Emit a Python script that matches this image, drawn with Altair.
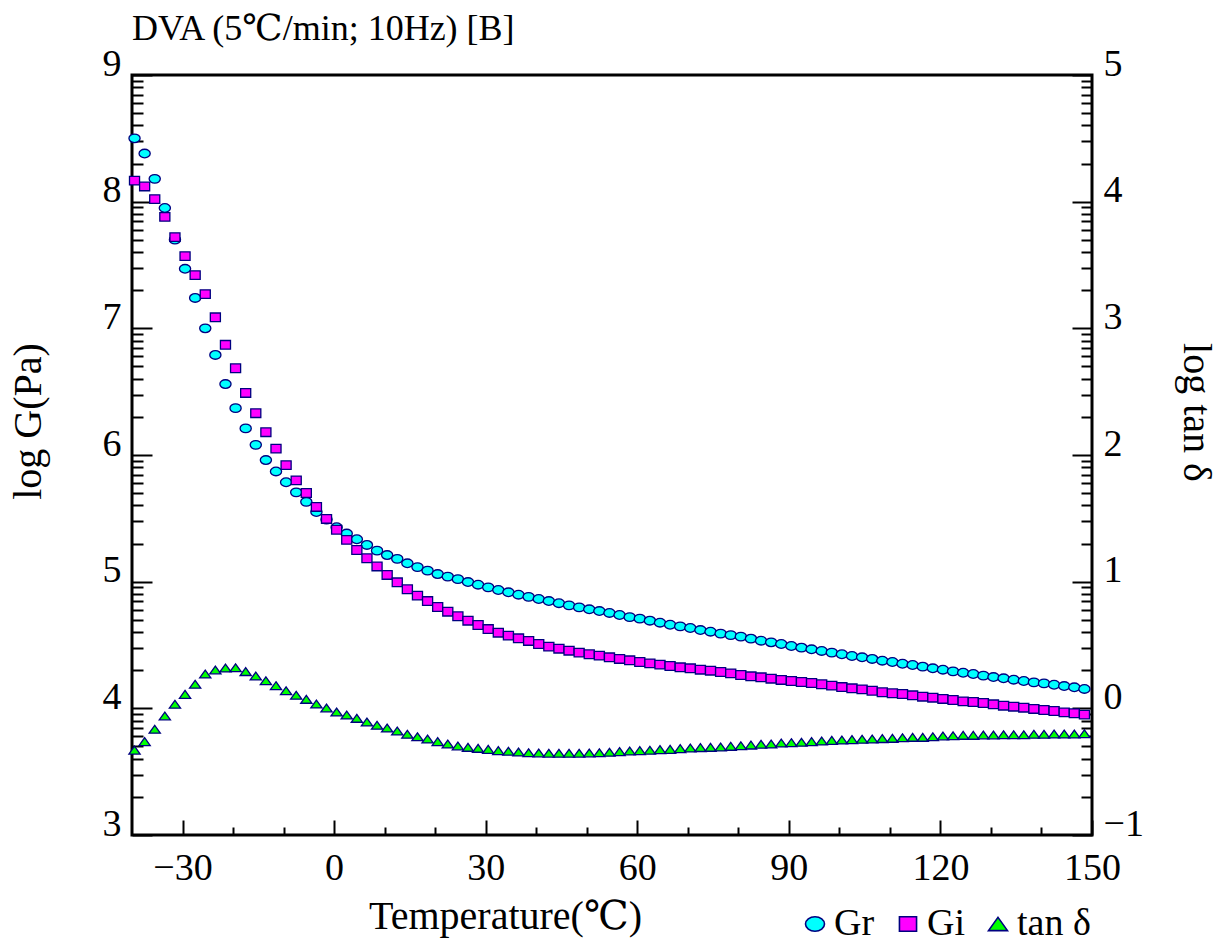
import math
import altair as alt
import pandas as pd

# ---------------- data ----------------
temps = [-39.5, -37.5, -35.5, -33.5, -31.5, -29.5, -27.5, -25.5, -23.5, -21.5,
         -19.5, -17.5, -15.5, -13.5, -11.5, -9.5, -7.5, -5.5, -3.5, -1.5,
         0.5, 2.5, 4.5, 6.5, 8.5, 10.5, 12.5, 14.5, 16.5, 18.5,
         20.5, 22.5, 24.5, 26.5, 28.5, 30.5, 32.5, 34.5, 36.5, 38.5,
         40.5, 42.5, 44.5, 46.5, 48.5, 50.5, 52.5, 54.5, 56.5, 58.5,
         60.5, 62.5, 64.5, 66.5, 68.5, 70.5, 72.5, 74.5, 76.5, 78.5,
         80.5, 82.5, 84.5, 86.5, 88.5, 90.5, 92.5, 94.5, 96.5, 98.5,
         100.5, 102.5, 104.5, 106.5, 108.5, 110.5, 112.5, 114.5, 116.5, 118.5,
         120.5, 122.5, 124.5, 126.5, 128.5, 130.5, 132.5, 134.5, 136.5, 138.5,
         140.5, 142.5, 144.5, 146.5, 148.5]

gr = [8.50, 8.38, 8.18, 7.95, 7.70, 7.47, 7.24, 7.00, 6.79, 6.56,
      6.37, 6.21, 6.08, 5.96, 5.87, 5.785, 5.705, 5.63, 5.55, 5.49,
      5.43, 5.38, 5.335, 5.29, 5.245, 5.21, 5.18, 5.145, 5.115, 5.087,
      5.06, 5.04, 5.02, 4.997, 4.976, 4.955, 4.934, 4.916, 4.897, 4.88,
      4.863, 4.847, 4.83, 4.813, 4.797, 4.782, 4.768, 4.753, 4.737, 4.72,
      4.708, 4.692, 4.676, 4.66, 4.647, 4.634, 4.618, 4.605, 4.59, 4.578,
      4.566, 4.55, 4.534, 4.521, 4.508, 4.492, 4.479, 4.466, 4.453, 4.44,
      4.427, 4.413, 4.403, 4.39, 4.376, 4.366, 4.352, 4.342, 4.329, 4.316,
      4.305, 4.292, 4.281, 4.271, 4.258, 4.247, 4.237, 4.226, 4.216, 4.205,
      4.197, 4.186, 4.176, 4.166, 4.153]

gi = [8.166, 8.12, 8.02, 7.88, 7.72, 7.57, 7.42, 7.27, 7.087, 6.87,
      6.685, 6.49, 6.33, 6.18, 6.05, 5.92, 5.80, 5.70, 5.59, 5.495,
      5.41, 5.33, 5.25, 5.185, 5.12, 5.053, 4.995, 4.94, 4.89, 4.847,
      4.80, 4.763, 4.727, 4.692, 4.658, 4.626, 4.597, 4.574, 4.553, 4.532,
      4.508, 4.487, 4.471, 4.455, 4.44, 4.427, 4.416, 4.403, 4.39, 4.379,
      4.366, 4.355, 4.345, 4.334, 4.324, 4.316, 4.305, 4.297, 4.287, 4.276,
      4.263, 4.253, 4.245, 4.234, 4.224, 4.216, 4.208, 4.2, 4.19, 4.179,
      4.168, 4.158, 4.15, 4.139, 4.127, 4.119, 4.113, 4.103, 4.092, 4.084,
      4.074, 4.066, 4.055, 4.05, 4.042, 4.032, 4.021, 4.013, 4.005, 3.995,
      3.987, 3.979, 3.968, 3.961, 3.95]

tan_d = [-0.33, -0.263, -0.165, -0.06, 0.032, 0.11, 0.19, 0.271, 0.303, 0.318,
         0.321, 0.29, 0.255, 0.218, 0.179, 0.139, 0.103, 0.071, 0.034, 0.003,
         -0.029, -0.053, -0.079, -0.108, -0.134, -0.155, -0.179, -0.205, -0.224, -0.242,
         -0.263, -0.282, -0.297, -0.308, -0.316, -0.324, -0.334, -0.339, -0.345, -0.35,
         -0.352, -0.354, -0.355, -0.355, -0.354, -0.352, -0.35, -0.347, -0.342, -0.337,
         -0.334, -0.331, -0.326, -0.324, -0.318, -0.313, -0.31, -0.308, -0.305, -0.30,
         -0.295, -0.29, -0.284, -0.282, -0.274, -0.271, -0.268, -0.263, -0.258, -0.253,
         -0.25, -0.247, -0.244, -0.242, -0.239, -0.237, -0.232, -0.229, -0.229, -0.224,
         -0.218, -0.216, -0.213, -0.213, -0.21, -0.21, -0.208, -0.208, -0.208, -0.205,
         -0.205, -0.203, -0.203, -0.203, -0.20]

series_names = ["Gr", "Gi", "tan δ"]
x_labels = [-30, 0, 30, 60, 90, 120, 150]
left_labels = [3, 4, 5, 6, 7, 8, 9]
right_labels = [-1, 0, 1, 2, 3, 4, 5]

# ---------------- styling ----------------
FONT = "Liberation Serif, DejaVu Serif, Noto Sans CJK JP, serif"
STROKE = "#000080"
FILLS = ["#00FFFF", "#FF00FF", "#00FF00"]
ELLIPSE = "M-1,0A1,0.77,0,1,1,1,0A1,0.77,0,1,1,-1,0Z"
RECT = "M-0.9,-0.77H0.9V0.77H-0.9Z"
TRI = "M0,-0.7L1,0.7L-1,0.7Z"
W, H = 960, 760


def log_ticks(lo, hi):
    vals = []
    for n in range(lo, hi):
        vals.append(n)
        for k in range(2, 10):
            vals.append(round(n + math.log10(k), 6))
    vals.append(hi)
    return vals


x_ticks = list(range(-30, 151, 10))

dfG = pd.DataFrame({"T": temps + temps, "val": gr + gi,
                    "series": ["Gr"] * len(gr) + ["Gi"] * len(gi)})
dfT = pd.DataFrame({"T": temps, "val": tan_d, "series": ["tan δ"] * len(tan_d)})

xscale = alt.Scale(domain=[-40, 150], nice=False, zero=False)
lscale = alt.Scale(domain=[3, 9], nice=False, zero=False)
rscale = alt.Scale(domain=[-1, 5], nice=False, zero=False)

legend = alt.Legend(title=None, orient="none", legendX=664, legendY=830,
                    direction="horizontal", symbolStrokeWidth=1.6)
fill_enc = alt.Fill("series:N", scale=alt.Scale(domain=series_names, range=FILLS),
                    legend=legend)
stroke_enc = alt.Stroke("series:N",
                        scale=alt.Scale(domain=series_names, range=[STROKE, STROKE, STROKE]),
                        legend=legend)
shape_enc = alt.Shape("series:N",
                      scale=alt.Scale(domain=series_names, range=[ELLIPSE, RECT, TRI]),
                      legend=legend)

major_y = {"condition": {"test": "abs(datum.value - round(datum.value)) < 0.001",
                         "value": 20}, "value": 11}
major_x = {"condition": {"test": "datum.value % 30 == 0", "value": 15}, "value": 8}

pt = dict(filled=True, size=125, strokeWidth=1.3, opacity=1)

g_layer = alt.Chart(dfG).mark_point(**pt).encode(
    x=alt.X("T:Q", scale=xscale,
            axis=alt.Axis(orient="bottom", values=x_labels, ticks=False, domain=False,
                          labelFontSize=38, labelPadding=14, labelBaseline="top",
                          labelFlush=False, labelOverlap=False,
                          title="Temperature(℃)", titleFontSize=40, titleX=373, titleY=93,
                          titleAlign="center", titleBaseline="alphabetic")),
    y=alt.Y("val:Q", scale=lscale,
            axis=alt.Axis(orient="left", values=left_labels, ticks=False, domain=False,
                          labelFontSize=38, labelPadding=11, labelBaseline="alphabetic",
                          labelFlush=False, labelOverlap=False,
                          title="log G(Pa)", titleFontSize=40, titleAngle=-90,
                          titleX=-92, titleY=346, titleAlign="center",
                          titleBaseline="alphabetic")),
    fill=fill_enc, stroke=stroke_enc, shape=shape_enc,
)

t_layer = alt.Chart(dfT).mark_point(**pt).encode(
    x=alt.X("T:Q", scale=xscale,
            axis=alt.Axis(orient="top", offset=-H, values=x_ticks, labels=False,
                          domain=False, tickSize=major_x, tickWidth=2, tickColor="black",
                          title=None)),
    y=alt.Y("val:Q", scale=rscale,
            axis=alt.Axis(orient="right", values=right_labels, ticks=False, domain=False,
                          labelFontSize=38, labelPadding=11, labelBaseline="alphabetic",
                          labelFlush=False, labelOverlap=False,
                          title="log tan δ", titleFontSize=40, titleAngle=90,
                          titleX=91, titleY=337, titleAlign="center",
                          titleBaseline="alphabetic")),
    fill=fill_enc, stroke=stroke_enc, shape=shape_enc,
)

# inward tick marks on the left frame (left scale)
lt_layer = alt.Chart(dfG).mark_point(opacity=0).encode(
    x=alt.X("T:Q", scale=xscale, axis=None),
    y=alt.Y("val:Q", scale=lscale,
            axis=alt.Axis(orient="right", offset=-W, values=log_ticks(3, 9), labels=False,
                          domain=False, tickSize=major_y, tickWidth=2, tickColor="black",
                          title=None)),
)

# inward tick marks on the right frame (right scale)
rt_layer = alt.Chart(dfT).mark_point(opacity=0).encode(
    x=alt.X("T:Q", scale=xscale, axis=None),
    y=alt.Y("val:Q", scale=rscale,
            axis=alt.Axis(orient="left", offset=-W, values=log_ticks(-1, 5), labels=False,
                          domain=False, tickSize=major_y, tickWidth=2, tickColor="black",
                          title=None)),
)

chart = alt.layer(lt_layer, rt_layer, g_layer, t_layer).resolve_scale(
    y="independent"
).resolve_axis(
    x="independent", y="independent"
).properties(
    width=W, height=H,
    autosize=alt.AutoSizeParams(type="none"),
    padding={"left": 132, "top": 75, "right": 136, "bottom": 107},
    title=alt.Title("DVA (5℃/min; 10Hz) [B]", anchor="start", frame="group",
                    fontSize=36, font=FONT, fontWeight="normal", color="black",
                    offset=-3),
).configure_view(
    stroke="black", strokeWidth=3
).configure_axis(
    grid=False, labelFont=FONT, titleFont=FONT, labelColor="black", titleColor="black",
    titleFontWeight="normal"
).configure_legend(
    labelFont=FONT, labelFontSize=38, labelColor="black", symbolSize=361,
    symbolStrokeWidth=1.6, columnPadding=14, labelOffset=0, padding=0
)

chart.save("out.html", embed_options={"renderer": "svg", "actions": False})
